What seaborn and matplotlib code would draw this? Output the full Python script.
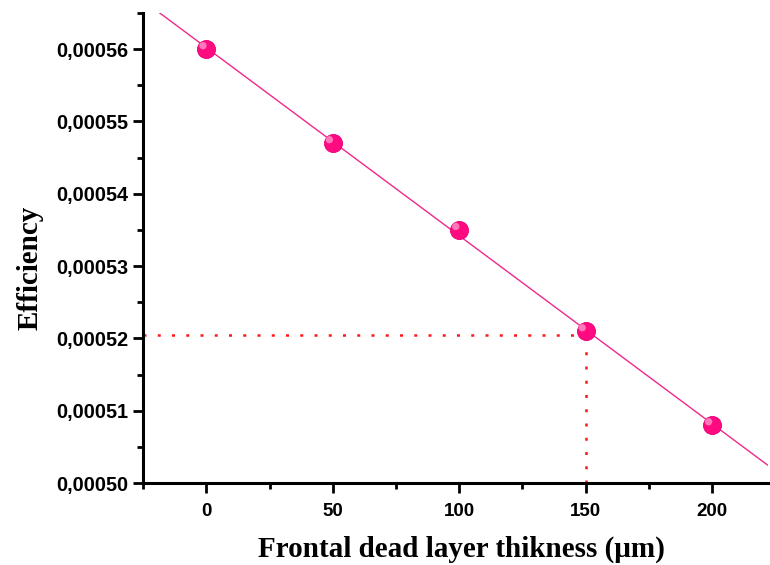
import matplotlib
matplotlib.use("Agg")
import matplotlib.pyplot as plt
import matplotlib.transforms as mtransforms
import seaborn as sns
import numpy as np
import pandas as pd
from matplotlib.ticker import MultipleLocator, FixedLocator, FuncFormatter

# ---- data ----
thickness = [0, 50, 100, 150, 200]
efficiency = [0.000560, 0.000547, 0.000535, 0.000521, 0.000508]
marked_x = 150
marked_y = 0.0005205
x_ticks = [0, 50, 100, 150, 200]
y_ticks = [0.00050, 0.00051, 0.00052, 0.00053, 0.00054, 0.00055, 0.00056]
x_label = "Frontal dead layer thikness (\u03bcm)"
y_label = "Efficiency"

df = pd.DataFrame({"x": thickness, "y": efficiency})

sns.set_theme(style="ticks")
plt.rcParams["font.family"] = ["Liberation Sans", "DejaVu Sans"]
plt.rcParams["text.color"] = "black"
plt.rcParams["axes.labelcolor"] = "black"
plt.rcParams["xtick.color"] = "black"
plt.rcParams["ytick.color"] = "black"

fig = plt.figure(figsize=(7.7, 5.65), dpi=100)
ax = fig.add_axes([0.186, 0.145, 0.811, 0.832])

xmin, xmax = -25, 222
ymin, ymax = 0.000500, 0.000565
ax.set_xlim(xmin, xmax)
ax.set_ylim(ymin, ymax)

# linear fit line extending across the axes
sns.regplot(data=df, x="x", y="y", ax=ax, ci=None, truncate=False, scatter=False,
            line_kws=dict(color="#f0288c", lw=1.0, zorder=2))

# dotted guide lines
ax.plot([xmin, marked_x], [marked_y, marked_y], color="#ff1a1a", lw=1.8,
        linestyle=(0, (1.2, 4.5)), zorder=1)
ax.plot([marked_x, marked_x], [ymin, marked_y], color="#ff1a1a", lw=1.8,
        linestyle=(0, (1.2, 4.5)), zorder=1)

# sphere-like markers
sns.scatterplot(data=df, x="x", y="y", ax=ax, s=170, color="#ff0a80",
                edgecolor="#e8007a", linewidth=0.6, zorder=5)
hl = mtransforms.offset_copy(ax.transData, fig=fig, x=-2.5, y=2.5, units="points")
ax.scatter(thickness, efficiency, s=28, color="#ff8cc4", edgecolors="none",
           alpha=0.85, zorder=6, transform=hl)

ax.set_xlim(xmin, xmax)
ax.set_ylim(ymin, ymax)

sns.despine(ax=ax)
for s in ["left", "bottom"]:
    ax.spines[s].set_linewidth(2.2)
    ax.spines[s].set_color("black")

ax.xaxis.set_major_locator(FixedLocator(x_ticks))
ax.xaxis.set_minor_locator(MultipleLocator(25))
ax.yaxis.set_major_locator(FixedLocator(y_ticks))
ax.yaxis.set_minor_locator(MultipleLocator(0.000005))
ax.yaxis.set_major_formatter(FuncFormatter(lambda v, p: f"{v:.5f}".replace(".", ",")))
ax.xaxis.set_major_formatter(FuncFormatter(lambda v, p: f"{v:.0f}"))

ax.tick_params(axis="both", which="major", direction="out", length=7.5, width=2.0,
               color="black")
ax.tick_params(axis="both", which="minor", direction="out", length=4.0, width=2.0,
               color="black")
ax.tick_params(axis="x", which="major", labelsize=13.5, pad=7)
ax.tick_params(axis="y", which="major", labelsize=14.3, pad=3)
for lab in ax.get_xticklabels() + ax.get_yticklabels():
    lab.set_fontweight("bold")
    lab.set_color("black")

ax.set_xlabel(x_label, fontsize=21, fontweight="bold", color="black",
              family=["Liberation Serif", "DejaVu Serif"])
ax.set_ylabel(y_label, fontsize=21, fontweight="bold", color="black",
              family=["Liberation Serif", "DejaVu Serif"])
ax.xaxis.set_label_coords(0.51, -0.112)
ax.yaxis.set_label_coords(-0.16, 0.457)

fig.savefig("out.png", dpi=100)
